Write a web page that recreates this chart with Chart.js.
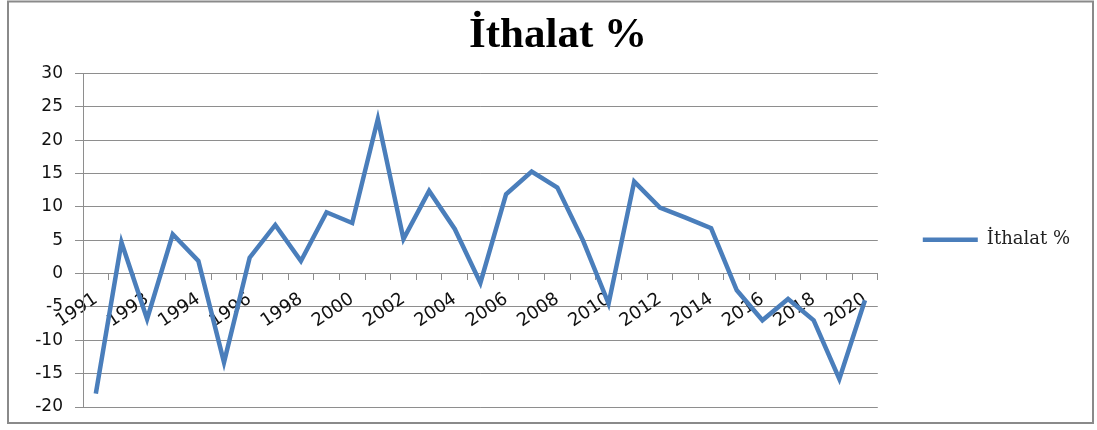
<!DOCTYPE html>
<html>
<head>
<meta charset="utf-8">
<script src="https://cdn.jsdelivr.net/npm/chart.js@4.4.0/dist/chart.umd.min.js"></script>
<style>
  html, body { margin: 0; padding: 0; background: #fff; }
  #wrap { position: relative; width: 1097px; height: 430px; }
</style>
</head>
<body>
<div id="wrap"><canvas id="chart" width="1097" height="430"></canvas></div>
<script>
const years = ['1991','1992','1993','1993','1994','1995','1996','1997','1998','1999','2000',
  '2001','2002','2003','2004','2005','2006','2007','2008','2009','2010',
  '2011','2012','2013','2014','2015','2016','2017','2018','2019','2020'];
const ithalat = [-18.0, 4.7, -6.8, 5.9, 1.9, -13.3, 2.4, 7.3, 1.9, 9.2, 7.6,
  23.2, 5.2, 12.4, 6.7, -1.4, 11.9, 15.3, 12.9, 5.0, -4.5,
  13.8, 9.9, 8.4, 6.8, -2.5, -7.0, -3.8, -7.0, -15.8, -4.0];
const seriesName = 'İthalat %';

const gridGray = '#8e8e8e';

// cerco grigio attorno al grafico
const framePlugin = {
  id: 'frame',
  afterDraw(chart) {
    const ctx = chart.ctx;
    ctx.save();
    ctx.strokeStyle = '#8a8a8a';
    ctx.lineWidth = 2;
    ctx.strokeRect(8, 1.5, 1085, 421.5);
    ctx.restore();
  }
};

new Chart(document.getElementById('chart'), {
  type: 'line',
  data: {
    labels: years,
    datasets: [{
      label: seriesName,
      data: ithalat,
      borderColor: '#4a7ebb',
      backgroundColor: '#4a7ebb',
      borderWidth: 4.5,
      pointRadius: 0,
      tension: 0,
      fill: false
    }]
  },
  options: {
    responsive: false,
    animation: false,
    layout: { padding: { left: 36, right: 17, top: 10, bottom: 23 } },
    plugins: {
      title: {
        display: true,
        text: seriesName,
        font: { family: 'Liberation Serif', size: 43, weight: 'bold' },
        color: '#000',
        padding: { top: 0, bottom: 12 }
      },
      legend: {
        position: 'right',
        // titolo vuoto: serve solo a spostare la voce verso il centro dell'area
        title: { display: true, text: ' ', font: { size: 17 }, padding: { top: 21, bottom: 21 } },
        labels: {
          usePointStyle: true,
          pointStyle: 'line',
          pointStyleWidth: 55,
          padding: 45,
          color: '#222',
          font: { family: 'DejaVu Serif', size: 18 }
        }
      },
      tooltip: { enabled: false }
    },
    scales: {
      x: {
        type: 'category',
        offset: true,
        position: { y: 0 },
        grid: { offset: true, drawOnChartArea: false, tickLength: 6, color: gridGray },
        border: { color: gridGray },
        ticks: {
          autoSkip: false,
          minRotation: 34,
          maxRotation: 34,
          padding: 9,
          color: '#111',
          font: { family: 'DejaVu Sans', size: 18 },
          callback: (v, i) => i % 2 === 0 ? years[i] : ''
        }
      },
      y: {
        min: -20,
        max: 30,
        ticks: {
          stepSize: 5,
          padding: 12,
          color: '#111',
          font: { family: 'DejaVu Sans', size: 17 }
        },
        grid: { color: gridGray, tickLength: 8 },
        border: { color: gridGray },
        afterFit(scale) { scale.width = 47; }
      }
    }
  },
  plugins: [framePlugin]
});
</script>
</body>
</html>
